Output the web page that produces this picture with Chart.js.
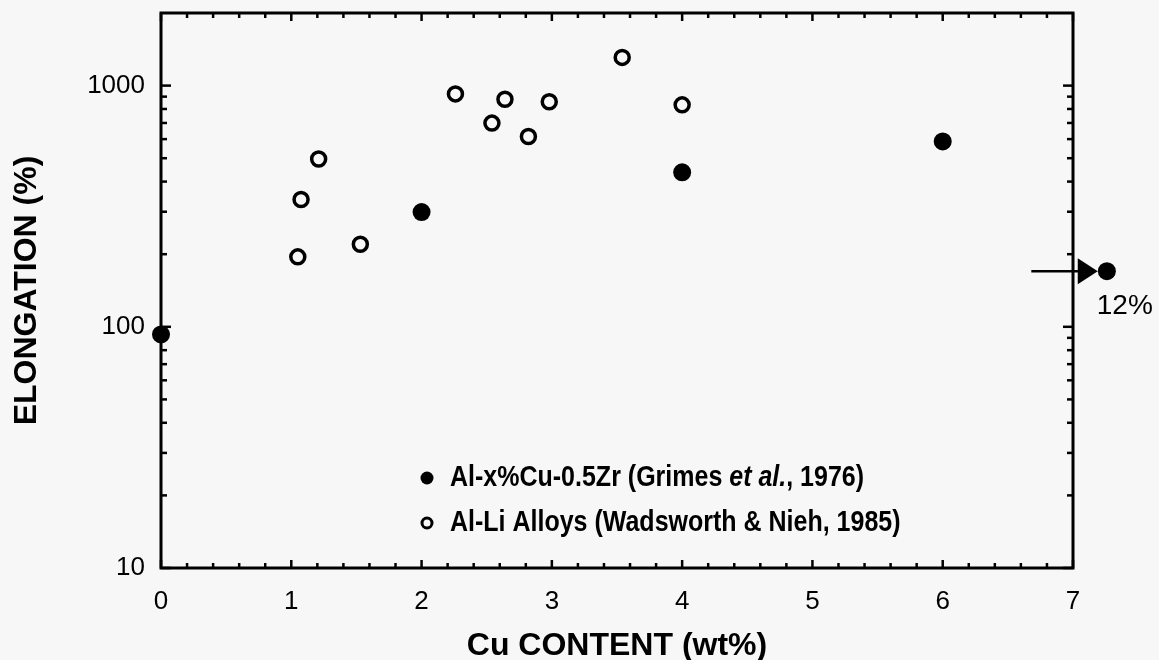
<!DOCTYPE html>
<html>
<head>
<meta charset="utf-8">
<script src="https://cdn.jsdelivr.net/npm/chart.js@4.4.1/dist/chart.umd.min.js"></script>
<style>
  html, body { margin: 0; padding: 0; background: #f7f7f7; }
  #wrap { width: 1159px; height: 660px; }
</style>
</head>
<body>
<div id="wrap"><canvas id="c" width="1159" height="660"></canvas></div>
<script>
// ---- Data ----
const grimesCu = [0, 2, 4, 6];
const grimesElong = [93, 299, 437, 587];
const grimesLabel = 'Al-x%Cu-0.5Zr (Grimes et al., 1976)';

const wadsCu = [1.05, 1.075, 1.21, 1.53, 2.26, 2.54, 2.64, 2.82, 2.98, 3.54, 4.0];
const wadsElong = [195, 337, 496, 220, 924, 699, 878, 615, 857, 1309, 832];
const wadsLabel = 'Al-Li Alloys (Wadsworth & Nieh, 1985)';

// off-scale Grimes point (12% Cu), drawn beyond the right axis with an arrow
const offScaleCu = [7.26];
const offScaleElong = [170];
const offScaleLabel = '12%';
const arrowFromCu = 6.68;
const arrowTipCu = 7.19;

// ---- Ticks ----
const xMajorTicks = [0, 1, 2, 3, 4, 5, 6, 7];
const xMinorTicks = [0.2, 0.4, 0.6, 0.8, 1.2, 1.4, 1.6, 1.8, 2.2, 2.4, 2.6, 2.8,
  3.2, 3.4, 3.6, 3.8, 4.2, 4.4, 4.6, 4.8, 5.2, 5.4, 5.6, 5.8, 6.2, 6.4, 6.6, 6.8];
const yMajorTicks = [10, 100, 1000];
const yMinorTicks = [20, 30, 40, 50, 60, 70, 80, 90, 200, 300, 400, 500, 600, 700, 800, 900];

const FONT = '"Liberation Sans", Arial, Helvetica, sans-serif';

const framePlugin = {
  id: 'frame',
  beforeDatasetsDraw(chart) {
    const { ctx, chartArea: a, scales } = chart;
    const xs = scales.x, ys = scales.y;
    ctx.save();
    ctx.strokeStyle = '#000';
    ctx.lineCap = 'butt';
    ctx.lineWidth = 2.5;
    const tick = (x1, y1, x2, y2) => { ctx.beginPath(); ctx.moveTo(x1, y1); ctx.lineTo(x2, y2); ctx.stroke(); };
    xMajorTicks.forEach(v => { const p = xs.getPixelForValue(v); tick(p, a.bottom, p, a.bottom - 8); tick(p, a.top, p, a.top + 8); });
    xMinorTicks.forEach(v => { const p = xs.getPixelForValue(v); tick(p, a.bottom, p, a.bottom - 5); tick(p, a.top, p, a.top + 5); });
    yMajorTicks.forEach(v => { const p = ys.getPixelForValue(v); tick(a.left, p, a.left + 10, p); tick(a.right, p, a.right - 10, p); });
    yMinorTicks.forEach(v => { const p = ys.getPixelForValue(v); tick(a.left, p, a.left + 6, p); tick(a.right, p, a.right - 6, p); });
    ctx.lineWidth = 3;
    ctx.strokeRect(a.left, a.top, a.right - a.left, a.bottom - a.top);
    ctx.restore();
  },
  afterDatasetsDraw(chart) {
    const { ctx, chartArea: a, scales } = chart;
    const xs = scales.x, ys = scales.y;
    ctx.save();
    ctx.fillStyle = '#000';
    ctx.strokeStyle = '#000';
    // off-scale point
    offScaleCu.forEach((cu, i) => {
      const px = xs.getPixelForValue(cu), py = ys.getPixelForValue(offScaleElong[i]);
      ctx.beginPath(); ctx.arc(px, py, 9, 0, Math.PI * 2); ctx.fill();
      // arrow
      const x0 = xs.getPixelForValue(arrowFromCu);
      const xt = xs.getPixelForValue(arrowTipCu);
      ctx.lineWidth = 2.5;
      ctx.beginPath(); ctx.moveTo(x0, py); ctx.lineTo(xt - 18, py); ctx.stroke();
      ctx.beginPath();
      ctx.moveTo(xt, py);
      ctx.lineTo(xt - 20, py - 13);
      ctx.lineTo(xt - 20, py + 13);
      ctx.closePath();
      ctx.fill();
      ctx.font = '28px ' + FONT;
      ctx.textAlign = 'left';
      ctx.textBaseline = 'alphabetic';
      ctx.fillText(offScaleLabel, xt - 1, py + 43);
    });

    // legend
    const lx = a.left + 266, ly1 = a.top + 465, ly2 = a.top + 510;
    ctx.beginPath(); ctx.arc(lx, ly1, 6.5, 0, Math.PI * 2); ctx.fill();
    ctx.lineWidth = 3;
    ctx.beginPath(); ctx.arc(lx, ly2, 5, 0, Math.PI * 2); ctx.stroke();
    ctx.textBaseline = 'middle';
    ctx.textAlign = 'left';
    const tx = lx + 23;
    const bold = 'bold 25px ' + FONT, boldIt = 'italic bold 25px ' + FONT;
    const sy = 1.18;
    const drawScaled = (t, x, y) => {
      ctx.save(); ctx.translate(x, y); ctx.scale(1, sy); ctx.fillText(t, 0, 0); ctx.restore();
    };
    const parts = [['Al-x%Cu-0.5Zr (Grimes ', bold], ['et al.', boldIt], [', 1976)', bold]];
    let cx = tx;
    parts.forEach(([t, f]) => { ctx.font = f; drawScaled(t, cx, ly1); cx += ctx.measureText(t).width; });
    ctx.font = bold;
    drawScaled(wadsLabel, tx, ly2);
    ctx.restore();
  }
};

new Chart(document.getElementById('c'), {
  type: 'scatter',
  data: {
    datasets: [
      {
        label: grimesLabel,
        data: grimesCu.map((x, i) => ({ x, y: grimesElong[i] })),
        pointRadius: 9,
        pointBackgroundColor: '#000',
        pointBorderColor: '#000',
        pointBorderWidth: 0,
        clip: false
      },
      {
        label: wadsLabel,
        data: wadsCu.map((x, i) => ({ x, y: wadsElong[i] })),
        pointRadius: 7,
        pointBackgroundColor: 'rgba(0,0,0,0)',
        pointBorderColor: '#000',
        pointBorderWidth: 3.5,
        clip: false
      }
    ]
  },
  options: {
    responsive: false,
    devicePixelRatio: 1,
    animation: false,
    layout: { padding: { top: 13, right: 86, left: 0, bottom: 0 } },
    plugins: { legend: { display: false }, tooltip: { enabled: false } },
    scales: {
      x: {
        type: 'linear', min: 0, max: 7,
        afterBuildTicks: s => { s.ticks = xMajorTicks.map(v => ({ value: v })); },
        afterFit: s => { s.height = 92; s.paddingLeft = 0; s.paddingRight = 0; },
        grid: { display: false, drawTicks: false },
        border: { display: false },
        ticks: { color: '#000', font: { family: FONT, size: 26 }, padding: 18, maxRotation: 0, callback: v => String(v) },
        title: { display: true, text: 'Cu CONTENT (wt%)', color: '#000',
          font: { family: FONT, size: 32, weight: 'bold', lineHeight: 0.85 }, padding: 0 }
      },
      y: {
        type: 'logarithmic', min: 10, max: 2000,
        afterBuildTicks: s => { s.ticks = yMajorTicks.map(v => ({ value: v })); },
        afterFit: s => { s.width = 161; s.paddingTop = 0; s.paddingBottom = 0; },
        grid: { display: false, drawTicks: false },
        border: { display: false },
        ticks: { color: '#000', font: { family: FONT, size: 26 }, padding: 16, callback: v => String(v) },
        title: { display: true, text: 'ELONGATION (%)', color: '#000',
          font: { family: FONT, size: 32, weight: 'bold', lineHeight: 1.2 }, padding: { top: 8, bottom: 0 } }
      }
    }
  },
  plugins: [framePlugin]
});
</script>
</body>
</html>
